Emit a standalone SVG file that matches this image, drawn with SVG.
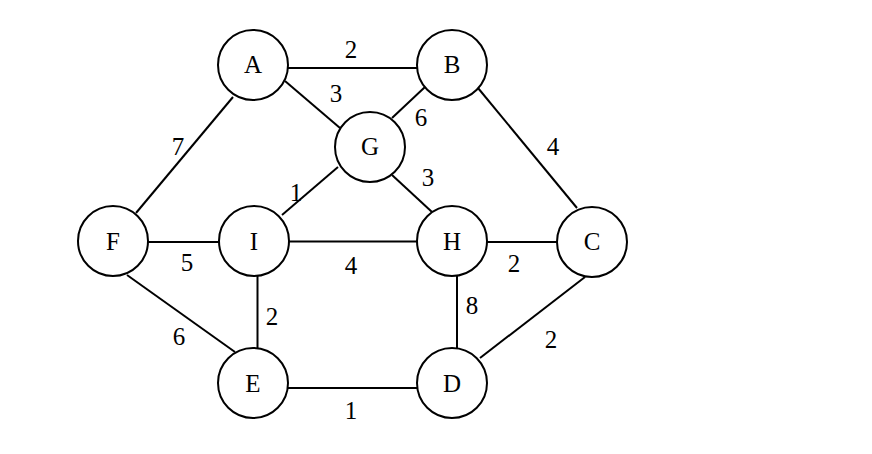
<svg xmlns="http://www.w3.org/2000/svg" width="872" height="454" viewBox="0 0 872 454">
<style>
.e{stroke:#000;stroke-width:2;fill:none}
.n circle{fill:#fff;stroke:#000;stroke-width:2}
text{font-family:"Liberation Serif","Times New Roman",serif;font-size:25px;fill:#000;text-anchor:middle}
</style>
<rect width="872" height="454" fill="#fff"/>
<g id="edges">
<line class="e" x1="288" y1="68" x2="417" y2="68"/>
<line class="e" x1="285" y1="81" x2="340" y2="128"/>
<line class="e" x1="425" y1="87" x2="392" y2="118"/>
<line class="e" x1="233" y1="97" x2="136" y2="213"/>
<line class="e" x1="478" y1="88" x2="577" y2="208"/>
<line class="e" x1="338" y1="167" x2="282" y2="215"/>
<line class="e" x1="392" y1="175" x2="432" y2="212"/>
<line class="e" x1="148" y1="242" x2="219" y2="242"/>
<line class="e" x1="289" y1="241.5" x2="417" y2="241.5"/>
<line class="e" x1="487" y1="242" x2="557" y2="242"/>
<line class="e" x1="257.5" y1="276" x2="257.5" y2="348"/>
<line class="e" x1="457" y1="276" x2="457" y2="348"/>
<line class="e" x1="288" y1="388" x2="417" y2="388"/>
<line class="e" x1="127" y1="275" x2="235" y2="352"/>
<line class="e" x1="585" y1="277" x2="480" y2="358"/>
<text x="351" y="58">2</text>
<text x="336" y="102">3</text>
<text x="421" y="126">6</text>
<text x="428" y="186">3</text>
<text x="296" y="201">1</text>
<text x="178" y="155">7</text>
<text x="553" y="155">4</text>
<text x="187" y="271">5</text>
<text x="351" y="274">4</text>
<text x="272" y="325">2</text>
<text x="179" y="345">6</text>
<text x="351" y="419">1</text>
<text x="514" y="272">2</text>
<text x="472" y="314">8</text>
<text x="551" y="348">2</text>
</g>
<g id="A" class="n"><circle cx="253" cy="65" r="35"/><text x="253" y="73">A</text></g>
<g id="B" class="n"><circle cx="452" cy="65" r="35"/><text x="452" y="73">B</text></g>
<g id="G" class="n"><circle cx="370" cy="147" r="35"/><text x="370" y="155">G</text></g>
<g id="F" class="n"><circle cx="113" cy="241" r="35"/><text x="113" y="250">F</text></g>
<g id="I" class="n"><circle cx="254" cy="241" r="35"/><text x="254" y="250">I</text></g>
<g id="H" class="n"><circle cx="452" cy="241" r="35"/><text x="452" y="250">H</text></g>
<g id="C" class="n"><circle cx="592" cy="242" r="35"/><text x="592" y="250">C</text></g>
<g id="E" class="n"><circle cx="253" cy="383" r="35"/><text x="253" y="392">E</text></g>
<g id="D" class="n"><circle cx="452" cy="383" r="35"/><text x="452" y="392">D</text></g>
</svg>
